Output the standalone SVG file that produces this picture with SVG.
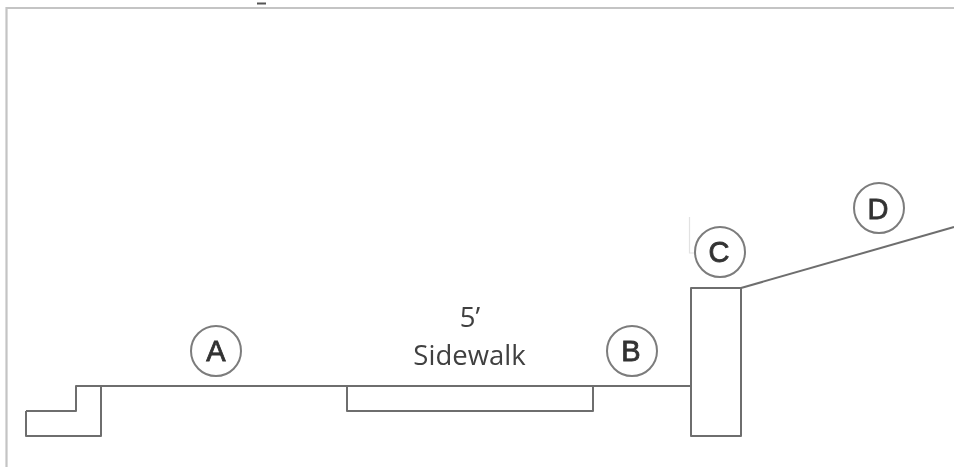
<svg xmlns="http://www.w3.org/2000/svg" width="954" height="467" viewBox="0 0 954 467">
<defs><filter id="soft" x="-5%" y="-5%" width="110%" height="110%"><feGaussianBlur stdDeviation="0.45"/></filter></defs>
<style>
.l{fill:none;stroke:#6e6e6e;stroke-width:2;stroke-linejoin:round}
.f{fill:none;stroke:#c4c4c4;stroke-width:2.2}
.c{fill:#fff;stroke:#7c7c7c;stroke-width:2}
.t{font-family:"Liberation Sans",Arial,sans-serif;font-size:29px;fill:#333;stroke:#333;stroke-width:.8;text-anchor:middle}
.s{font-family:"Open Sans","Noto Sans",sans-serif;font-size:27.500px;fill:#404040;text-anchor:middle}
</style>
<rect width="954" height="467" fill="#fff"/>
<g filter="url(#soft)">
<path class="f" d="M954 8H6.500V467"/>
<path d="M257 3.500H266" stroke="#555" stroke-width="2" fill="none"/>
<path d="M689.500 217V253H694" fill="none" stroke="#e2e2e2" stroke-width="1.200"/>
<g id="connectors">
<path id="ground" class="l" d="M26 411H76V386H691M26 411V436H101V386"/>
<path id="sidewalk-slab" class="l" d="M347 386V411H593V386"/>
<path id="slope" class="l" d="M741 288L954 227"/>
</g>
<g id="wall"><rect class="l" x="691" y="288" width="50" height="148"/></g>
<g id="node-a"><circle class="c" cx="216" cy="351" r="25"/><text class="t" x="216" y="361">A</text></g>
<g id="node-b"><circle class="c" cx="632" cy="351" r="25"/><text class="t" x="631" y="361">B</text></g>
<g id="node-c"><circle class="c" cx="720" cy="252" r="25"/><text class="t" x="719" y="262">C</text></g>
<g id="node-d"><circle class="c" cx="879" cy="208" r="25"/><text class="t" x="878" y="219">D</text></g>
<g id="label"><text class="s" x="470" y="327">5’</text><text class="s" x="469.500" y="365">Sidewalk</text></g>
</g>
</svg>
